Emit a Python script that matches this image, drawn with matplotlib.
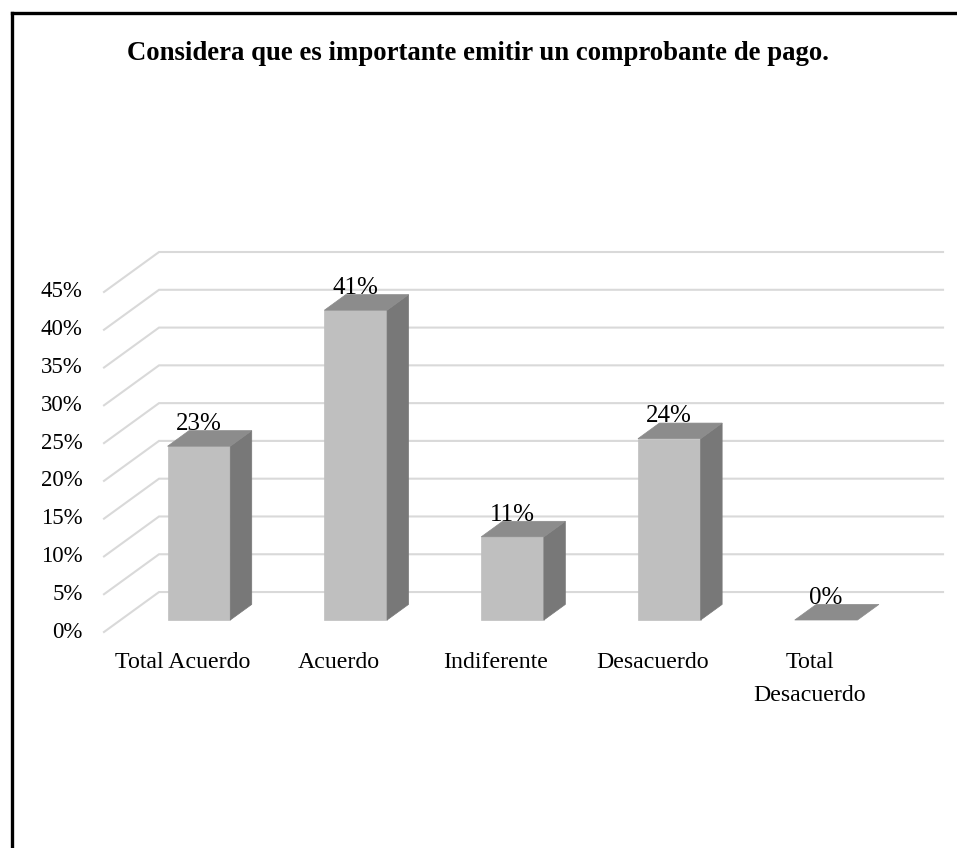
import matplotlib
matplotlib.use('Agg')
import matplotlib.pyplot as plt
from matplotlib.lines import Line2D
from matplotlib.patches import Polygon

plt.rcParams['font.family'] = ['Liberation Serif', 'DejaVu Serif']

# ---- data ----
categories = ['Total Acuerdo', 'Acuerdo', 'Indiferente', 'Desacuerdo', 'Total\nDesacuerdo']
values = [23, 41, 11, 24, 0]
ytick_values = [0, 5, 10, 15, 20, 25, 30, 35, 40, 45]
title = 'Considera que es importante emitir un comprobante de pago.'

# ---- pseudo-3D geometry (data units: category / percent) ----
DX, DY = 0.351, 5.29          # depth offset of the back wall
BAR_W = 0.40
T0, T1 = 0.30, 0.69           # bar front/back position inside the depth
n = len(categories)

fig = plt.figure(figsize=(9.57, 8.48), dpi=100)
ax = fig.add_axes([0, 0, 1, 1])
ax.set_xlim(-104 / 156.8, (957 - 104) / 156.8)
ax.set_ylim(-(848 - 632) / 7.556, 632 / 7.556)
ax.axis('off')

grid_c = '#d9d9d9'
for v in ytick_values:
    ax.plot([0, DX, n + DX], [v, v + DY, v + DY], color=grid_c, lw=1.5, zorder=1,
            solid_joinstyle='miter')
    ax.text(-0.135, v, f'{v}%', ha='right', va='center', fontsize=16.5)

front_c, top_c, side_c = '#bfbfbf', '#8c8c8c', '#787878'
for i, (cat, v) in enumerate(zip(categories, values)):
    x0 = i + 0.5 - BAR_W / 2 + T0 * DX
    x1 = x0 + BAR_W
    yb = T0 * DY
    ddx, ddy = (T1 - T0) * DX, (T1 - T0) * DY
    ytop = v + yb
    if v > 0:
        ax.add_patch(Polygon([(x0, yb), (x1, yb), (x1, ytop), (x0, ytop)],
                             closed=True, fc=front_c, ec=front_c, lw=0.5, zorder=3))
        ax.add_patch(Polygon([(x1, yb), (x1 + ddx, yb + ddy), (x1 + ddx, ytop + ddy), (x1, ytop)],
                             closed=True, fc=side_c, ec=side_c, lw=0.5, zorder=3))
    ax.add_patch(Polygon([(x0, ytop), (x1, ytop), (x1 + ddx, ytop + ddy), (x0 + ddx, ytop + ddy)],
                         closed=True, fc=top_c, ec=top_c, lw=0.5, zorder=3))
    ax.text((x0 + x1) / 2, ytop + ddy + 0.1, f'{v}%', ha='center', va='baseline',
            fontsize=18, zorder=5)
    ax.text(i + 0.5, -2.6, cat, ha='center', va='top', fontsize=17.2, linespacing=1.75)

fig.text(478 / 957, 1 - 53 / 848, title, ha='center', va='center',
         fontsize=19.3, fontweight='bold')

# frame (only top and left edges visible)
fig.add_artist(Line2D([11.5 / 957, 1], [1 - 13 / 848, 1 - 13 / 848], color='black', lw=2.4,
                      transform=fig.transFigure))
fig.add_artist(Line2D([11.5 / 957, 11.5 / 957], [0, 1 - 13 / 848], color='black', lw=2.4,
                      transform=fig.transFigure))

fig.savefig('out.png', dpi=100, facecolor='white')
